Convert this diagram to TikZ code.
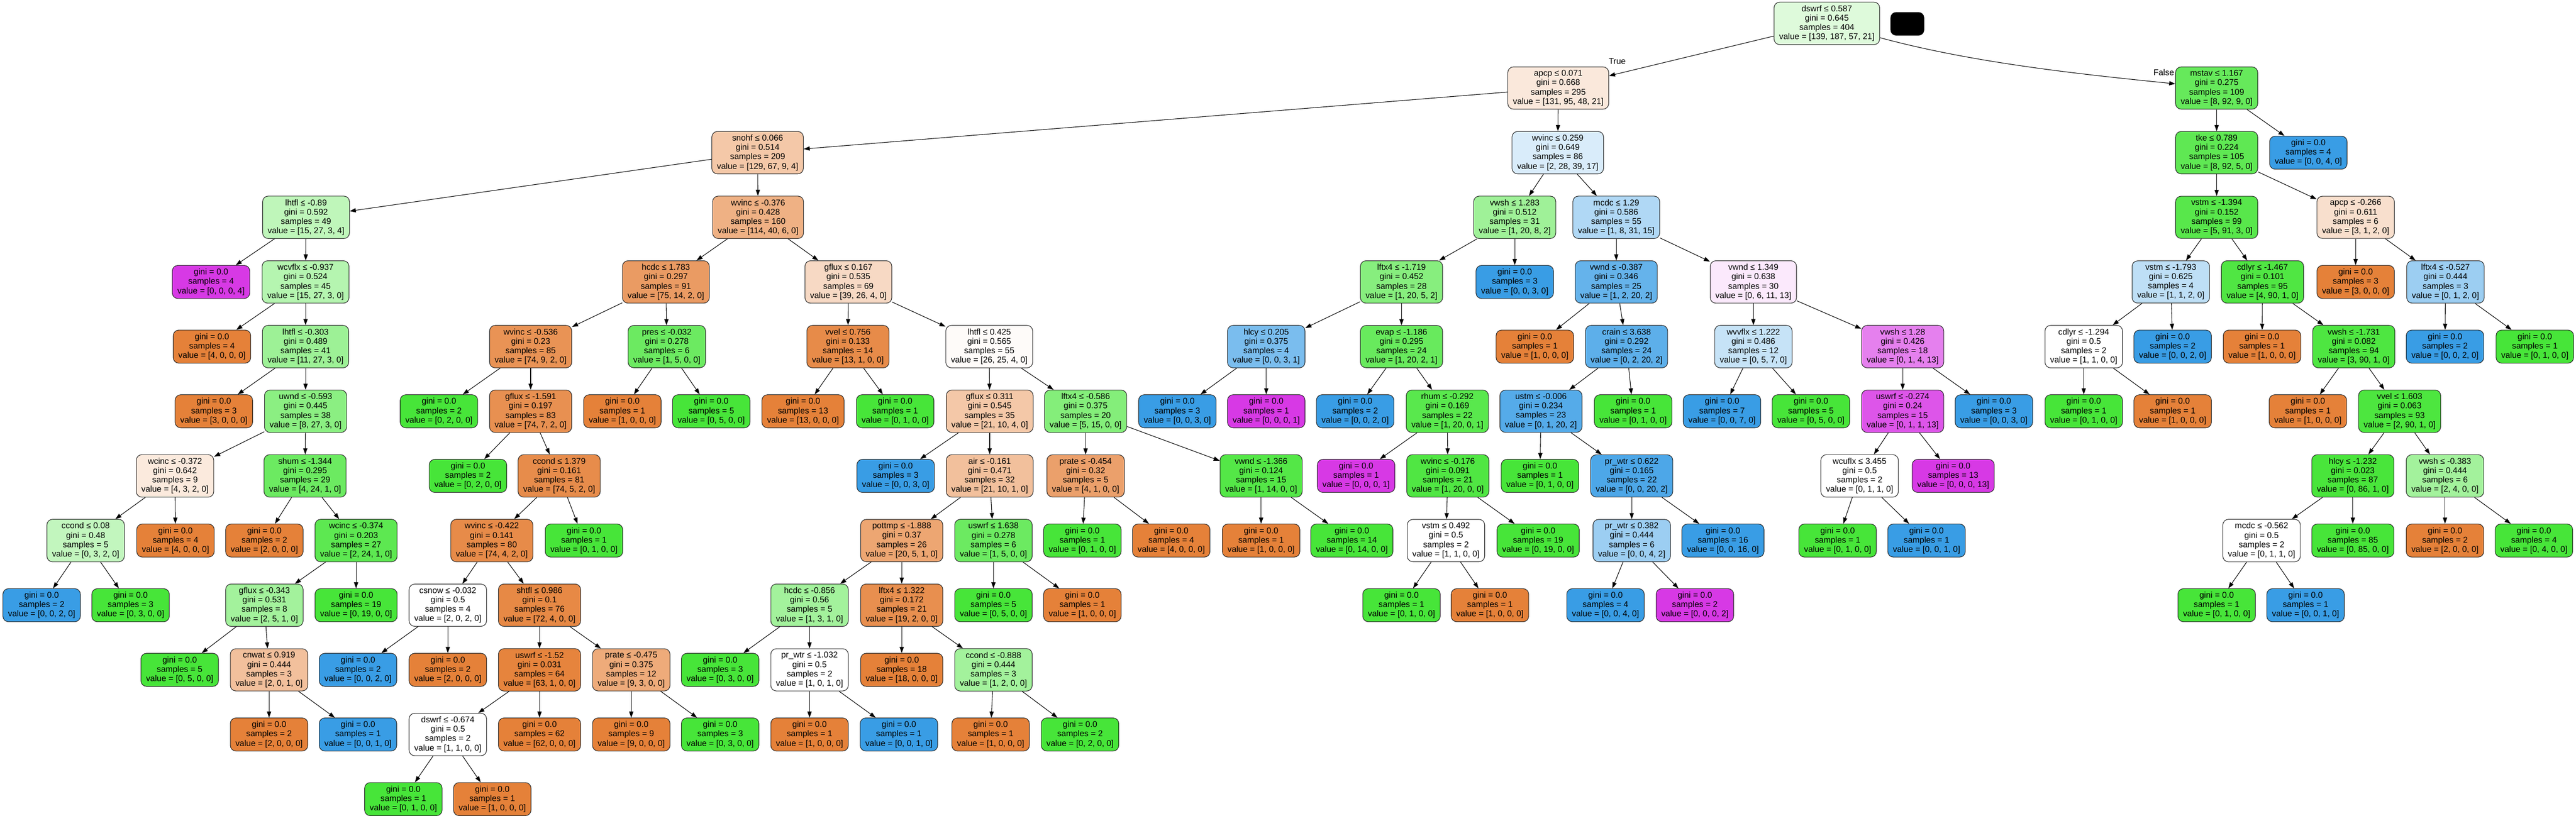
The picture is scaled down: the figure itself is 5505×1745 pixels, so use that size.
\documentclass[tikz,border=0pt]{standalone}
\usepackage{fontspec}
\setmainfont{Liberation Sans}
\usetikzlibrary{arrows.meta}

\definecolor{clase0}{RGB}{229,129,57}
\definecolor{clase1}{RGB}{71,229,57}
\definecolor{clase2}{RGB}{57,157,229}
\definecolor{clase3}{RGB}{215,57,229}

\begin{document}
\begin{tikzpicture}[x=1pt, y=1pt,
    caja/.style={draw=black!85, line width=1.2pt, rounded corners=12pt, align=center,
        font=\fontsize{18}{20}\selectfont, inner xsep=11pt, inner ysep=7pt},
    c0/.style={caja, fill=clase0!#1!white},
    c1/.style={caja, fill=clase1!#1!white},
    c2/.style={caja, fill=clase2!#1!white},
    c3/.style={caja, fill=clase3!#1!white},
    blanco/.style={caja, fill=white},
    flecha/.style={-{Triangle[length=13pt, width=9pt]}, line width=1.2pt},
    rotulo/.style={font=\fontsize{18}{20}\selectfont, inner sep=0pt}
]

\def\h{138.25} % Distancia entre niveles
\def\hoja#1#2{gini = 0.0\\samples = #1\\value = [#2]}
\def\corte#1#2#3#4{#1\\gini = #2\\samples = #3\\value = [#4]}

\useasboundingbox (0,0) rectangle (5505,-1745);

% Raíz
\node[c1=18] (n0) at (3904,-50) {\corte{dswrf ≤ 0.587}{0.645}{404}{139, 187, 57, 21}};
\node[fill=black, rounded corners=12pt, minimum width=72pt, minimum height=50pt] (tapa) at (4076,-51) {};

% Rama izquierda (True)
\node[c0=18] (n1) at (3330,-50-1*\h) {\corte{apcp ≤ 0.071}{0.668}{295}{131, 95, 48, 21}};
\node[c0=44] (n2) at (1619,-50-2*\h) {\corte{snohf ≤ 0.066}{0.514}{209}{129, 67, 9, 4}};
\node[c1=35] (n3) at (654,-50-3*\h) {\corte{lhtfl ≤ -0.89}{0.592}{49}{15, 27, 3, 4}};
\node[c3=100] (n4) at (451,-50-4*\h) {\hoja{4}{0, 0, 0, 4}};
\node[c1=40] (n5) at (653,-50-4*\h) {\corte{wcvflx ≤ -0.937}{0.524}{45}{15, 27, 3, 0}};
\node[c0=100] (n6) at (453,-50-5*\h) {\hoja{4}{4, 0, 0, 0}};
\node[c1=53] (n7) at (653,-50-5*\h) {\corte{lhtfl ≤ -0.303}{0.489}{41}{11, 27, 3, 0}};
\node[c0=100] (n8) at (457,-50-6*\h) {\hoja{3}{3, 0, 0, 0}};
\node[c1=63] (n9) at (653,-50-6*\h) {\corte{uwnd ≤ -0.593}{0.445}{38}{8, 27, 3, 0}};
\node[c0=17] (n10) at (374,-50-7*\h) {\corte{wcinc ≤ -0.372}{0.642}{9}{4, 3, 2, 0}};
\node[c1=33] (n11) at (183,-50-8*\h) {\corte{ccond ≤ 0.08}{0.48}{5}{0, 3, 2, 0}};
\node[c2=100] (n12) at (89,-50-9*\h) {\hoja{2}{0, 0, 2, 0}};
\node[c1=100] (n13) at (279,-50-9*\h) {\hoja{3}{0, 3, 0, 0}};
\node[c0=100] (n14) at (375,-50-8*\h) {\hoja{4}{4, 0, 0, 0}};
\node[c1=80] (n15) at (652,-50-7*\h) {\corte{shum ≤ -1.344}{0.295}{29}{4, 24, 1, 0}};
\node[c0=100] (n16) at (565,-50-8*\h) {\hoja{2}{2, 0, 0, 0}};
\node[c1=88] (n17) at (761,-50-8*\h) {\corte{wcinc ≤ -0.374}{0.203}{27}{2, 24, 1, 0}};
\node[c1=50] (n18) at (565,-50-9*\h) {\corte{gflux ≤ -0.343}{0.531}{8}{2, 5, 1, 0}};
\node[c1=100] (n19) at (384,-50-10*\h) {\hoja{5}{0, 5, 0, 0}};
\node[c0=50] (n20) at (575,-50-10*\h) {\corte{cnwat ≤ 0.919}{0.444}{3}{2, 0, 1, 0}};
\node[c0=100] (n21) at (575,-50-11*\h) {\hoja{2}{2, 0, 0, 0}};
\node[c2=100] (n22) at (765,-50-11*\h) {\hoja{1}{0, 0, 1, 0}};
\node[c1=100] (n23) at (761,-50-9*\h) {\hoja{19}{0, 19, 0, 0}};
\node[c0=62] (n24) at (1620,-50-3*\h) {\corte{wvinc ≤ -0.376}{0.428}{160}{114, 40, 6, 0}};
\node[c0=79] (n25) at (1423,-50-4*\h) {\corte{hcdc ≤ 1.783}{0.297}{91}{75, 14, 2, 0}};
\node[c0=86] (n26) at (1134,-50-5*\h) {\corte{wvinc ≤ -0.536}{0.23}{85}{74, 9, 2, 0}};
\node[c1=100] (n27) at (938,-50-6*\h) {\hoja{2}{0, 2, 0, 0}};
\node[c0=88] (n28) at (1134,-50-6*\h) {\corte{gflux ≤ -1.591}{0.197}{83}{74, 7, 2, 0}};
\node[c1=100] (n29) at (1000,-50-7*\h) {\hoja{2}{0, 2, 0, 0}};
\node[c0=91] (n30) at (1195,-50-7*\h) {\corte{ccond ≤ 1.379}{0.161}{81}{74, 5, 2, 0}};
\node[c0=92] (n31) at (1051,-50-8*\h) {\corte{wvinc ≤ -0.422}{0.141}{80}{74, 4, 2, 0}};
\node[blanco] (n32) at (957,-50-9*\h) {\corte{csnow ≤ -0.032}{0.5}{4}{2, 0, 2, 0}};
\node[c2=100] (n33) at (765,-50-10*\h) {\hoja{2}{0, 0, 2, 0}};
\node[c0=100] (n34) at (957,-50-10*\h) {\hoja{2}{2, 0, 0, 0}};
\node[c0=94] (n35) at (1153,-50-9*\h) {\corte{shtfl ≤ 0.986}{0.1}{76}{72, 4, 0, 0}};
\node[c0=98] (n36) at (1153,-50-10*\h) {\corte{uswrf ≤ -1.52}{0.031}{64}{63, 1, 0, 0}};
\node[blanco] (n37) at (957,-50-11*\h) {\corte{dswrf ≤ -0.674}{0.5}{2}{1, 1, 0, 0}};
\node[c1=100] (n38) at (862,-50-12*\h) {\hoja{1}{0, 1, 0, 0}};
\node[c0=100] (n39) at (1052,-50-12*\h) {\hoja{1}{1, 0, 0, 0}};
\node[c0=100] (n40) at (1153,-50-11*\h) {\hoja{62}{62, 0, 0, 0}};
\node[c0=67] (n41) at (1349,-50-10*\h) {\corte{prate ≤ -0.475}{0.375}{12}{9, 3, 0, 0}};
\node[c0=100] (n42) at (1349,-50-11*\h) {\hoja{9}{9, 0, 0, 0}};
\node[c1=100] (n43) at (1539,-50-11*\h) {\hoja{3}{0, 3, 0, 0}};
\node[c1=100] (n44) at (1248,-50-8*\h) {\hoja{1}{0, 1, 0, 0}};
\node[c1=80] (n45) at (1425,-50-5*\h) {\corte{pres ≤ -0.032}{0.278}{6}{1, 5, 0, 0}};
\node[c0=100] (n46) at (1330,-50-6*\h) {\hoja{1}{1, 0, 0, 0}};
\node[c1=100] (n47) at (1520,-50-6*\h) {\hoja{5}{0, 5, 0, 0}};
\node[c0=30] (n48) at (1813,-50-4*\h) {\corte{gflux ≤ 0.167}{0.535}{69}{39, 26, 4, 0}};
\node[c0=92] (n49) at (1812,-50-5*\h) {\corte{vvel ≤ 0.756}{0.133}{14}{13, 1, 0, 0}};
\node[c0=100] (n50) at (1716,-50-6*\h) {\hoja{13}{13, 0, 0, 0}};
\node[c1=100] (n51) at (1913,-50-6*\h) {\hoja{1}{0, 1, 0, 0}};
\node[c0=3] (n52) at (2114,-50-5*\h) {\corte{lhtfl ≤ 0.425}{0.565}{55}{26, 25, 4, 0}};
\node[c0=44] (n53) at (2115,-50-6*\h) {\corte{gflux ≤ 0.311}{0.545}{35}{21, 10, 4, 0}};
\node[c2=100] (n54) at (1914,-50-7*\h) {\hoja{3}{0, 0, 3, 0}};
\node[c0=50] (n55) at (2115,-50-7*\h) {\corte{air ≤ -0.161}{0.471}{32}{21, 10, 1, 0}};
\node[c0=71] (n56) at (1927,-50-8*\h) {\corte{pottmp ≤ -1.888}{0.37}{26}{20, 5, 1, 0}};
\node[c1=50] (n57) at (1730,-50-9*\h) {\corte{hcdc ≤ -0.856}{0.56}{5}{1, 3, 1, 0}};
\node[c1=100] (n58) at (1539,-50-10*\h) {\hoja{3}{0, 3, 0, 0}};
\node[blanco] (n59) at (1730,-50-10*\h) {\corte{pr\_wtr ≤ -1.032}{0.5}{2}{1, 0, 1, 0}};
\node[c0=100] (n60) at (1730,-50-11*\h) {\hoja{1}{1, 0, 0, 0}};
\node[c2=100] (n61) at (1921,-50-11*\h) {\hoja{1}{0, 0, 1, 0}};
\node[c0=89] (n62) at (1927,-50-9*\h) {\corte{lftx4 ≤ 1.322}{0.172}{21}{19, 2, 0, 0}};
\node[c0=100] (n63) at (1927,-50-10*\h) {\hoja{18}{18, 0, 0, 0}};
\node[c1=50] (n64) at (2123,-50-10*\h) {\corte{ccond ≤ -0.888}{0.444}{3}{1, 2, 0, 0}};
\node[c0=100] (n65) at (2117,-50-11*\h) {\hoja{1}{1, 0, 0, 0}};
\node[c1=100] (n66) at (2308,-50-11*\h) {\hoja{2}{0, 2, 0, 0}};
\node[c1=80] (n67) at (2123,-50-8*\h) {\corte{uswrf ≤ 1.638}{0.278}{6}{1, 5, 0, 0}};
\node[c1=100] (n68) at (2123,-50-9*\h) {\hoja{5}{0, 5, 0, 0}};
\node[c0=100] (n69) at (2313,-50-9*\h) {\hoja{1}{1, 0, 0, 0}};
\node[c1=67] (n70) at (2320,-50-6*\h) {\corte{lftx4 ≤ -0.586}{0.375}{20}{5, 15, 0, 0}};
\node[c0=75] (n71) at (2320,-50-7*\h) {\corte{prate ≤ -0.454}{0.32}{5}{4, 1, 0, 0}};
\node[c1=100] (n72) at (2313,-50-8*\h) {\hoja{1}{0, 1, 0, 0}};
\node[c0=100] (n73) at (2503,-50-8*\h) {\hoja{4}{4, 0, 0, 0}};
\node[c1=93] (n74) at (2695,-50-7*\h) {\corte{vwnd ≤ -1.366}{0.124}{15}{1, 14, 0, 0}};
\node[c0=100] (n75) at (2695,-50-8*\h) {\hoja{1}{1, 0, 0, 0}};
\node[c1=100] (n76) at (2889,-50-8*\h) {\hoja{14}{0, 14, 0, 0}};
\node[c2=19] (n77) at (3329,-50-2*\h) {\corte{wvinc ≤ 0.259}{0.649}{86}{2, 28, 39, 17}};
\node[c1=52] (n78) at (3237,-50-3*\h) {\corte{vwsh ≤ 1.283}{0.512}{31}{1, 20, 8, 2}};
\node[c1=65] (n79) at (2995,-50-4*\h) {\corte{lftx4 ≤ -1.719}{0.452}{28}{1, 20, 5, 2}};
\node[c2=67] (n80) at (2706,-50-5*\h) {\corte{hlcy ≤ 0.205}{0.375}{4}{0, 0, 3, 1}};
\node[c2=100] (n81) at (2516,-50-6*\h) {\hoja{3}{0, 0, 3, 0}};
\node[c3=100] (n82) at (2706,-50-6*\h) {\hoja{1}{0, 0, 0, 1}};
\node[c1=82] (n83) at (2995,-50-5*\h) {\corte{evap ≤ -1.186}{0.295}{24}{1, 20, 2, 1}};
\node[c2=100] (n84) at (2896,-50-6*\h) {\hoja{2}{0, 0, 2, 0}};
\node[c1=90] (n85) at (3093,-50-6*\h) {\corte{rhum ≤ -0.292}{0.169}{22}{1, 20, 0, 1}};
\node[c3=100] (n86) at (2898,-50-7*\h) {\hoja{1}{0, 0, 0, 1}};
\node[c1=95] (n87) at (3094,-50-7*\h) {\corte{wvinc ≤ -0.176}{0.091}{21}{1, 20, 0, 0}};
\node[blanco] (n88) at (3090,-50-8*\h) {\corte{vstm ≤ 0.492}{0.5}{2}{1, 1, 0, 0}};
\node[c1=100] (n89) at (2995,-50-9*\h) {\hoja{1}{0, 1, 0, 0}};
\node[c0=100] (n90) at (3184,-50-9*\h) {\hoja{1}{1, 0, 0, 0}};
\node[c1=100] (n91) at (3287,-50-8*\h) {\hoja{19}{0, 19, 0, 0}};
\node[c2=100] (n92) at (3237,-50-4*\h) {\hoja{3}{0, 0, 3, 0}};
\node[c2=40] (n93) at (3454,-50-3*\h) {\corte{mcdc ≤ 1.29}{0.586}{55}{1, 8, 31, 15}};
\node[c2=78] (n94) at (3454,-50-4*\h) {\corte{vwnd ≤ -0.387}{0.346}{25}{1, 2, 20, 2}};
\node[c0=100] (n95) at (3280,-50-5*\h) {\hoja{1}{1, 0, 0, 0}};
\node[c2=82] (n96) at (3476,-50-5*\h) {\corte{crain ≤ 3.638}{0.292}{24}{0, 2, 20, 2}};
\node[c2=86] (n97) at (3293,-50-6*\h) {\corte{ustm ≤ -0.006}{0.234}{23}{0, 1, 20, 2}};
\node[c1=100] (n98) at (3291,-50-7*\h) {\hoja{1}{0, 1, 0, 0}};
\node[c2=90] (n99) at (3487,-50-7*\h) {\corte{pr\_wtr ≤ 0.622}{0.165}{22}{0, 0, 20, 2}};
\node[c2=50] (n100) at (3487,-50-8*\h) {\corte{pr\_wtr ≤ 0.382}{0.444}{6}{0, 0, 4, 2}};
\node[c2=100] (n101) at (3431,-50-9*\h) {\hoja{4}{0, 0, 4, 0}};
\node[c3=100] (n102) at (3622,-50-9*\h) {\hoja{2}{0, 0, 0, 2}};
\node[c2=100] (n103) at (3682,-50-8*\h) {\hoja{16}{0, 0, 16, 0}};
\node[c1=100] (n104) at (3490,-50-6*\h) {\hoja{1}{0, 1, 0, 0}};
\node[c3=11] (n105) at (3747,-50-4*\h) {\corte{vwnd ≤ 1.349}{0.638}{30}{0, 6, 11, 13}};
\node[c2=29] (n106) at (3747,-50-5*\h) {\corte{wvvflx ≤ 1.222}{0.486}{12}{0, 5, 7, 0}};
\node[c2=100] (n107) at (3680,-50-6*\h) {\hoja{7}{0, 0, 7, 0}};
\node[c1=100] (n108) at (3870,-50-6*\h) {\hoja{5}{0, 5, 0, 0}};
\node[c3=64] (n109) at (4066,-50-5*\h) {\corte{vwsh ≤ 1.28}{0.426}{18}{0, 1, 4, 13}};
\node[c3=86] (n110) at (4066,-50-6*\h) {\corte{uswrf ≤ -0.274}{0.24}{15}{0, 1, 1, 13}};
\node[blanco] (n111) at (3974,-50-7*\h) {\corte{wcuflx ≤ 3.455}{0.5}{2}{0, 1, 1, 0}};
\node[c1=100] (n112) at (3927,-50-8*\h) {\hoja{1}{0, 1, 0, 0}};
\node[c2=100] (n113) at (4117,-50-8*\h) {\hoja{1}{0, 0, 1, 0}};
\node[c3=100] (n114) at (4174,-50-7*\h) {\hoja{13}{0, 0, 0, 13}};
\node[c2=100] (n115) at (4261,-50-6*\h) {\hoja{3}{0, 0, 3, 0}};

% Rama derecha (False)
\node[c1=83] (n116) at (4737,-50-1*\h) {\corte{mstav ≤ 1.167}{0.275}{109}{8, 92, 9, 0}};
\node[c1=87] (n117) at (4737,-50-2*\h) {\corte{tke ≤ 0.789}{0.224}{105}{8, 92, 5, 0}};
\node[c1=91] (n118) at (4737,-50-3*\h) {\corte{vstm ≤ -1.394}{0.152}{99}{5, 91, 3, 0}};
\node[c2=33] (n119) at (4639,-50-4*\h) {\corte{vstm ≤ -1.793}{0.625}{4}{1, 1, 2, 0}};
\node[blanco] (n120) at (4453,-50-5*\h) {\corte{cdlyr ≤ -1.294}{0.5}{2}{1, 1, 0, 0}};
\node[c1=100] (n121) at (4453,-50-6*\h) {\hoja{1}{0, 1, 0, 0}};
\node[c0=100] (n122) at (4643,-50-6*\h) {\hoja{1}{1, 0, 0, 0}};
\node[c2=100] (n123) at (4643,-50-5*\h) {\hoja{2}{0, 0, 2, 0}};
\node[c1=95] (n124) at (4835,-50-4*\h) {\corte{cdlyr ≤ -1.467}{0.101}{95}{4, 90, 1, 0}};
\node[c0=100] (n125) at (4834,-50-5*\h) {\hoja{1}{1, 0, 0, 0}};
\node[c1=96] (n126) at (5030,-50-5*\h) {\corte{vwsh ≤ -1.731}{0.082}{94}{3, 90, 1, 0}};
\node[c0=100] (n127) at (4932,-50-6*\h) {\hoja{1}{1, 0, 0, 0}};
\node[c1=97] (n128) at (5128,-50-6*\h) {\corte{vvel ≤ 1.603}{0.063}{93}{2, 90, 1, 0}};
\node[c1=99] (n129) at (5028,-50-7*\h) {\corte{hlcy ≤ -1.232}{0.023}{87}{0, 86, 1, 0}};
\node[blanco] (n130) at (4833,-50-8*\h) {\corte{mcdc ≤ -0.562}{0.5}{2}{0, 1, 1, 0}};
\node[c1=100] (n131) at (4737,-50-9*\h) {\hoja{1}{0, 1, 0, 0}};
\node[c2=100] (n132) at (4927,-50-9*\h) {\hoja{1}{0, 0, 1, 0}};
\node[c1=100] (n133) at (5028,-50-8*\h) {\hoja{85}{0, 85, 0, 0}};
\node[c1=50] (n134) at (5225,-50-7*\h) {\corte{vwsh ≤ -0.383}{0.444}{6}{2, 4, 0, 0}};
\node[c0=100] (n135) at (5225,-50-8*\h) {\hoja{2}{2, 0, 0, 0}};
\node[c1=100] (n136) at (5415,-50-8*\h) {\hoja{4}{0, 4, 0, 0}};
\node[c0=25] (n137) at (5034,-50-3*\h) {\corte{apcp ≤ -0.266}{0.611}{6}{3, 1, 2, 0}};
\node[c0=100] (n138) at (5034,-50-4*\h) {\hoja{3}{3, 0, 0, 0}};
\node[c2=50] (n139) at (5226,-50-4*\h) {\corte{lftx4 ≤ -0.527}{0.444}{3}{0, 1, 2, 0}};
\node[c2=100] (n140) at (5225,-50-5*\h) {\hoja{2}{0, 0, 2, 0}};
\node[c1=100] (n141) at (5417,-50-5*\h) {\hoja{1}{0, 1, 0, 0}};
\node[c2=100] (n142) at (4933,-50-2*\h) {\hoja{4}{0, 0, 4, 0}};

% Aristas
\foreach \a/\b in {0/1, 1/2, 1/77, 2/3, 2/24, 3/4, 3/5, 5/6, 5/7, 7/8, 7/9,
    9/10, 9/15, 10/11, 10/14, 11/12, 11/13, 15/16, 15/17, 17/18, 17/23,
    18/19, 18/20, 20/21, 20/22, 24/25, 24/48, 25/26, 25/45, 26/27, 26/28,
    28/29, 28/30, 30/31, 30/44, 31/32, 31/35, 32/33, 32/34, 35/36, 35/41,
    36/37, 36/40, 37/38, 37/39, 41/42, 41/43, 45/46, 45/47, 48/49, 48/52,
    49/50, 49/51, 52/53, 52/70, 53/54, 53/55, 55/56, 55/67, 56/57, 56/62,
    57/58, 57/59, 59/60, 59/61, 62/63, 62/64, 64/65, 64/66, 67/68, 67/69,
    70/71, 70/74, 71/72, 71/73, 74/75, 74/76, 77/78, 77/93, 78/79, 78/92,
    79/80, 79/83, 80/81, 80/82, 83/84, 83/85, 85/86, 85/87, 87/88, 87/91,
    88/89, 88/90, 93/94, 93/105, 94/95, 94/96, 96/97, 96/104, 97/98, 97/99,
    99/100, 99/103, 100/101, 100/102, 105/106, 105/109, 106/107, 106/108,
    109/110, 109/115, 110/111, 110/114, 111/112, 111/113, 116/117, 116/142,
    117/118, 117/137, 118/119, 118/124, 119/120, 119/123, 120/121, 120/122,
    124/125, 124/126, 126/127, 126/128, 128/129, 128/134, 129/130, 129/133,
    130/131, 130/132, 134/135, 134/136, 137/138, 137/139, 139/140, 139/141}
    \draw[flecha] (n\a) -- (n\b);
\draw[flecha] (n0) .. controls (4218,-135) and (4449,-159) .. (n116);

% Etiquetas de las aristas de la raíz
\node[rotulo] (verdad) at (3456,-131) {True};
\node[rotulo] (falso) at (4624,-155) {False};

\end{tikzpicture}
\end{document}
